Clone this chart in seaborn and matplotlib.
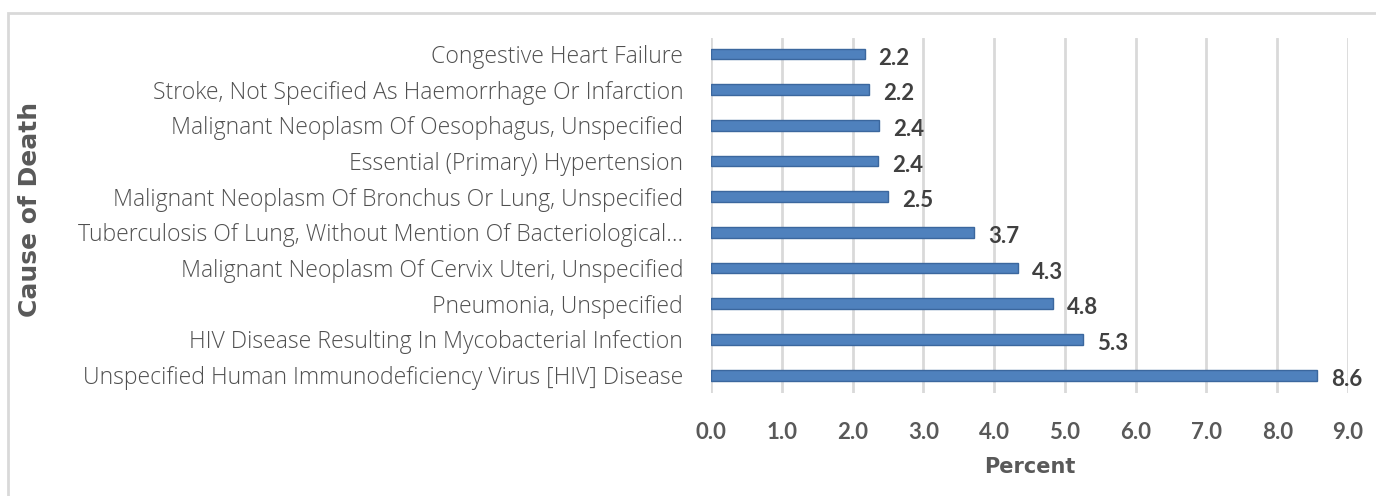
import pandas as pd
import matplotlib
matplotlib.use("Agg")
import matplotlib.pyplot as plt
import seaborn as sns
from matplotlib.patches import Rectangle

# Top 10 causes of death (percent), listed top to bottom as in the chart
causes = [
    "Congestive Heart Failure",
    "Stroke, Not Specified As Haemorrhage Or Infarction",
    "Malignant Neoplasm Of Oesophagus, Unspecified",
    "Essential (Primary) Hypertension",
    "Malignant Neoplasm Of Bronchus Or Lung, Unspecified",
    "Tuberculosis Of Lung, Without Mention Of Bacteriological...",
    "Malignant Neoplasm Of Cervix Uteri, Unspecified",
    "Pneumonia, Unspecified",
    "HIV Disease Resulting In Mycobacterial Infection",
    "Unspecified Human Immunodeficiency Virus [HIV] Disease",
]
percent = [2.17, 2.23, 2.37, 2.36, 2.50, 3.72, 4.34, 4.83, 5.26, 8.56]
x_ticks = [0.0, 1.0, 2.0, 3.0, 4.0, 5.0, 6.0, 7.0, 8.0, 9.0]

df = pd.DataFrame({"cause": causes, "percent": percent})

sns.set_style("white")
plt.rcParams["font.family"] = ["Lato", "DejaVu Sans"]

fig = plt.figure(figsize=(13.76, 4.96), dpi=100)
ax = fig.add_axes([711 / 1376, 1 - 393 / 496, (1348 - 711) / 1376, (393 - 38) / 496])

sns.barplot(data=df, x="percent", y="cause", order=causes, orient="h",
            color="#4f81bd", width=0.3, saturation=1,
            edgecolor="#3b679e", linewidth=1, ax=ax)

# data labels
for i, v in enumerate(percent):
    ax.annotate(f"{v:.1f}", (v, i), xytext=(10, -3), textcoords="offset points",
                ha="left", va="center", fontsize=16, fontweight="bold",
                color="#404040")

ax.set_xlim(0, 9)
ax.set_ylim(9.5, -0.45)
ax.set_xticks(x_ticks)
ax.set_xticklabels([f"{t:.1f}" for t in x_ticks], fontsize=16, fontweight="bold",
                   color="#595959")
ax.tick_params(axis="x", length=0, pad=21)
ax.tick_params(axis="y", length=0, pad=20)
for lab in ax.get_yticklabels():
    lab.set_fontfamily(["Open Sans", "DejaVu Sans"])
    lab.set_fontsize(16.6)
    lab.set_fontweight("light")
    lab.set_color("#505050")

ax.grid(axis="x", color="#d9d9d9", linewidth=2)
ax.set_axisbelow(True)
for s in ax.spines.values():
    s.set_visible(False)

ax.set_xlabel("Percent", fontsize=15, fontweight="bold", color="#595959",
              labelpad=10, family="DejaVu Sans")
ax.set_ylabel("")
fig.text(30 / 1376, 1 - 209 / 496, "Cause of Death", rotation=90, ha="center",
         va="center", fontsize=18, fontweight="bold", color="#595959",
         family="DejaVu Sans")

# chart border
fig.patches.append(Rectangle((8 / 1376, -0.05), 1.0, 1 - 13 / 496 + 0.05,
                             transform=fig.transFigure, fill=False,
                             edgecolor="#d9d9d9", linewidth=2))

fig.savefig("out.png", dpi=100)
